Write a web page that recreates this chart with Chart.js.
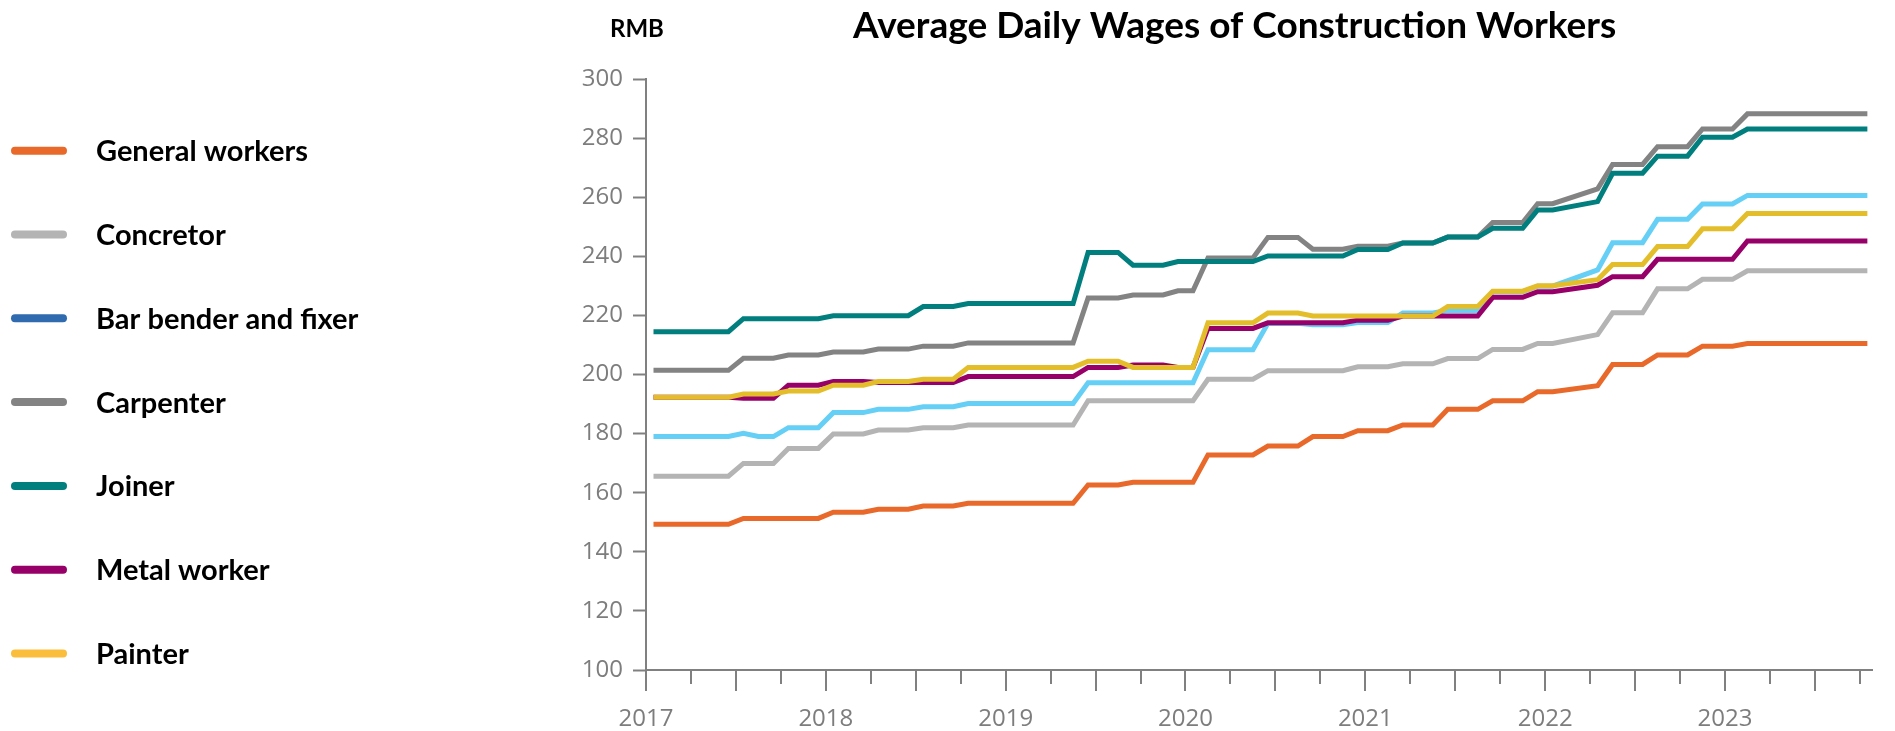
<!DOCTYPE html>
<html>
<head>
<meta charset="utf-8">
<title>Average Daily Wages of Construction Workers</title>
<script src="https://cdn.jsdelivr.net/npm/chart.js@4.4.1/dist/chart.umd.min.js"></script>
<style>
  html, body { margin: 0; padding: 0; background: #fff; }
  #wrap { position: relative; width: 1895px; height: 731px; }
</style>
</head>
<body>
<div id="wrap"><canvas id="wageChart"></canvas></div>
<script>
// ---------------------
// Data (RMB per day)
// ---------------------
const chartTitle = 'Average Daily Wages of Construction Workers';
const unitLabel = 'RMB';
const yearLabels = ['2017', '2018', '2019', '2020', '2021', '2022', '2023'];

// monthly readings, Feb and Mar 2022 are missing
const months = [
  '2017-01','2017-02','2017-03','2017-04','2017-05','2017-06','2017-07','2017-08','2017-09','2017-10','2017-11','2017-12',
  '2018-01','2018-02','2018-03','2018-04','2018-05','2018-06','2018-07','2018-08','2018-09','2018-10','2018-11','2018-12',
  '2019-01','2019-02','2019-03','2019-04','2019-05','2019-06','2019-07','2019-08','2019-09','2019-10','2019-11','2019-12',
  '2020-01','2020-02','2020-03','2020-04','2020-05','2020-06','2020-07','2020-08','2020-09','2020-10','2020-11','2020-12',
  '2021-01','2021-02','2021-03','2021-04','2021-05','2021-06','2021-07','2021-08','2021-09','2021-10','2021-11','2021-12',
  '2022-01','2022-04','2022-05','2022-06','2022-07','2022-08','2022-09','2022-10','2022-11','2022-12',
  '2023-01','2023-02','2023-03','2023-04','2023-05','2023-06','2023-07','2023-08','2023-09','2023-10'
];

const generalWorkers = [
  149.3,149.3,149.3,149.3,149.3,149.3,151.3,151.3,151.3,151.3,151.3,151.3,
  153.4,153.4,153.4,154.4,154.4,154.4,155.5,155.5,155.5,156.4,156.4,156.4,
  156.4,156.4,156.4,156.4,156.4,162.6,162.6,162.6,163.5,163.5,163.5,163.5,
  163.5,172.8,172.8,172.8,172.8,175.8,175.8,175.8,179.0,179.0,179.0,181.0,
  181.0,181.0,182.9,182.9,182.9,188.2,188.2,188.2,191.1,191.1,191.1,194.2,
  194.2,196.2,203.4,203.4,203.4,206.6,206.6,206.6,209.6,209.6,
  209.6,210.5,210.5,210.5,210.5,210.5,210.5,210.5,210.5,210.5
];
const concretor = [
  165.6,165.6,165.6,165.6,165.6,165.6,169.9,169.9,169.9,175.0,175.0,175.0,
  179.9,179.9,179.9,181.2,181.2,181.2,182.0,182.0,182.0,182.9,182.9,182.9,
  182.9,182.9,182.9,182.9,182.9,191.1,191.1,191.1,191.1,191.1,191.1,191.1,
  191.1,198.4,198.4,198.4,198.4,201.3,201.3,201.3,201.3,201.3,201.3,202.6,
  202.6,202.6,203.6,203.6,203.6,205.4,205.4,205.4,208.5,208.5,208.5,210.5,
  210.5,213.5,220.9,220.9,220.9,229.0,229.0,229.0,232.2,232.2,
  232.2,235.1,235.1,235.1,235.1,235.1,235.1,235.1,235.1,235.1
];
const barBender = [
  179.0,179.0,179.0,179.0,179.0,179.0,180.1,179.0,179.0,182.0,182.0,182.0,
  187.1,187.1,187.1,188.2,188.2,188.2,189.1,189.1,189.1,190.2,190.2,190.2,
  190.2,190.2,190.2,190.2,190.2,197.2,197.2,197.2,197.2,197.2,197.2,197.2,
  197.2,208.4,208.4,208.4,208.4,217.3,217.3,217.3,216.8,216.8,216.8,217.6,
  217.6,217.6,220.8,220.8,220.8,221.7,221.7,221.7,228.0,228.0,228.0,229.9,
  229.9,235.4,244.6,244.6,244.6,252.5,252.5,252.5,257.7,257.7,
  257.7,260.6,260.6,260.6,260.6,260.6,260.6,260.6,260.6,260.6
];
const carpenter = [
  201.4,201.4,201.4,201.4,201.4,201.4,205.5,205.5,205.5,206.6,206.6,206.6,
  207.6,207.6,207.6,208.6,208.6,208.6,209.6,209.6,209.6,210.7,210.7,210.7,
  210.7,210.7,210.7,210.7,210.7,225.9,225.9,225.9,226.9,226.9,226.9,228.3,
  228.3,239.4,239.4,239.4,239.4,246.4,246.4,246.4,242.4,242.4,242.4,243.4,
  243.4,243.4,244.5,244.5,244.5,246.5,246.5,246.5,251.4,251.4,251.4,257.8,
  257.8,262.8,271.1,271.1,271.1,277.1,277.1,277.1,283.1,283.1,
  283.1,288.2,288.2,288.2,288.2,288.2,288.2,288.2,288.2,288.2
];
const joiner = [
  214.5,214.5,214.5,214.5,214.5,214.5,218.9,218.9,218.9,218.9,218.9,218.9,
  219.9,219.9,219.9,219.9,219.9,219.9,223.0,223.0,223.0,224.0,224.0,224.0,
  224.0,224.0,224.0,224.0,224.0,241.3,241.3,241.3,237.0,237.0,237.0,238.2,
  238.2,238.2,238.2,238.2,238.2,240.1,240.1,240.1,240.1,240.1,240.1,242.3,
  242.3,242.3,244.5,244.5,244.5,246.5,246.5,246.5,249.5,249.5,249.5,255.7,
  255.7,258.5,268.1,268.1,268.1,273.9,273.9,273.9,280.3,280.3,
  280.3,283.1,283.1,283.1,283.1,283.1,283.1,283.1,283.1,283.1
];
const metalWorker = [
  192.3,192.3,192.3,192.3,192.3,192.3,192.0,192.0,192.0,196.4,196.4,196.4,
  197.6,197.6,197.6,197.3,197.3,197.3,197.3,197.3,197.3,199.3,199.3,199.3,
  199.3,199.3,199.3,199.3,199.3,202.4,202.4,202.4,203.2,203.2,203.2,202.4,
  202.4,215.6,215.6,215.6,215.6,217.5,217.5,217.5,217.5,217.5,217.5,218.4,
  218.4,218.4,219.8,219.8,219.8,219.8,219.8,219.8,226.1,226.1,226.1,228.0,
  228.0,230.2,233.1,233.1,233.1,239.0,239.0,239.0,239.0,239.0,
  239.0,245.2,245.2,245.2,245.2,245.2,245.2,245.2,245.2,245.2
];
const painter = [
  192.3,192.3,192.3,192.3,192.3,192.3,193.4,193.4,193.4,194.4,194.4,194.4,
  196.4,196.4,196.4,197.6,197.6,197.6,198.4,198.4,198.4,202.4,202.4,202.4,
  202.4,202.4,202.4,202.4,202.4,204.5,204.5,204.5,202.4,202.4,202.4,202.4,
  202.4,217.5,217.5,217.5,217.5,220.8,220.8,220.8,219.8,219.8,219.8,219.8,
  219.8,219.8,219.8,219.8,219.8,223.0,223.0,223.0,228.2,228.2,228.2,230.0,
  230.0,232.1,237.2,237.2,237.2,243.3,243.3,243.3,249.3,249.3,
  249.3,254.5,254.5,254.5,254.5,254.5,254.5,254.5,254.5,254.5
];

const seriesNames = ['General workers', 'Concretor', 'Bar bender and fixer', 'Carpenter', 'Joiner', 'Metal worker', 'Painter'];
const seriesValues = [generalWorkers, concretor, barBender, carpenter, joiner, metalWorker, painter];
const lineColors = ['#e8692a', '#b4b4b4', '#66cff6', '#838383', '#007f7e', '#960068', '#e4be2a'];
const legendColors = ['#e8692a', '#b4b4b4', '#2f6bae', '#838383', '#007f7e', '#960068', '#fbbe3c'];

// months since Jan 2017, plotted mid-month
function monthPos(m) {
  const [y, mo] = m.split('-').map(Number);
  return (y - 2017) * 12 + (mo - 1) + 0.5;
}

const axisGray = '#808080';
const labelGray = '#7d7d7d';

// =====================
// title, unit, legend and x tick marks
// =====================
const decor = {
  id: 'decor',
  afterDraw(chart) {
    const ctx = chart.ctx;
    ctx.save();
    ctx.textAlign = 'left';
    ctx.textBaseline = 'alphabetic';
    ctx.fillStyle = '#000';
    ctx.font = '700 37px Lato';
    ctx.fillText(chartTitle, 853, 38);
    ctx.font = '700 24px Lato';
    ctx.fillText(unitLabel, 610, 37);

    // legend
    seriesNames.forEach((name, k) => {
      const yc = 150.7 + k * 83.8;
      ctx.strokeStyle = legendColors[k];
      ctx.lineWidth = 8;
      ctx.lineCap = 'round';
      ctx.beginPath();
      ctx.moveTo(15, yc);
      ctx.lineTo(63, yc);
      ctx.stroke();
      ctx.fillStyle = '#000';
      ctx.font = '700 29px Lato';
      ctx.fillText(name, 96, yc + 10.5);
    });

    // quarter ticks on x axis, longer every half year
    const xs = chart.scales.x;
    ctx.strokeStyle = axisGray;
    ctx.lineWidth = 2;
    ctx.lineCap = 'butt';
    for (let m = 0; m <= xs.max; m += 3) {
      const px = Math.round(xs.getPixelForValue(m));
      const len = m % 6 === 0 ? 21 : 14;
      ctx.beginPath();
      ctx.moveTo(px, xs.top);
      ctx.lineTo(px, xs.top + len);
      ctx.stroke();
    }
    ctx.restore();
  }
};

const ctx = document.getElementById('wageChart').getContext('2d');
new Chart(ctx, {
  type: 'line',
  data: {
    datasets: seriesNames.map((name, k) => ({
      label: name,
      data: months.map((m, i) => ({ x: monthPos(m), y: seriesValues[k][i] })),
      borderColor: lineColors[k],
      backgroundColor: lineColors[k],
      borderWidth: 5,
      pointRadius: 0,
      tension: 0,
      fill: false,
      order: seriesNames.length - 1 - k
    }))
  },
  options: {
    responsive: true,
    maintainAspectRatio: false,
    animation: false,
    events: [],
    layout: { padding: { left: 0, right: 12, top: 79, bottom: 0 } },
    plugins: {
      legend: { display: false },
      tooltip: { enabled: false },
      title: { display: false }
    },
    scales: {
      x: {
        type: 'linear',
        min: 0,
        max: 81.87,
        afterBuildTicks: s => {
          const t = [];
          for (let m = 0; m <= 81; m += 3) t.push({ value: m });
          s.ticks = t;
        },
        afterFit: s => { s.height = 61; },
        ticks: {
          autoSkip: false,
          maxRotation: 0,
          padding: 35,
          color: labelGray,
          font: { family: 'Open Sans', size: 24 },
          callback: v => (v % 12 === 0 ? yearLabels[v / 12] : '')
        },
        grid: { drawOnChartArea: false, drawTicks: false },
        border: { display: true, color: axisGray, width: 2 }
      },
      y: {
        min: 100,
        max: 300,
        afterFit: s => { s.width = 646; },
        ticks: {
          stepSize: 20,
          padding: 10,
          color: labelGray,
          font: { family: 'Open Sans', size: 24 }
        },
        grid: { drawOnChartArea: false, drawTicks: true, tickLength: 13, tickColor: axisGray, tickWidth: 2 },
        border: { display: true, color: axisGray, width: 2 }
      }
    }
  },
  plugins: [decor]
});
</script>
</body>
</html>
